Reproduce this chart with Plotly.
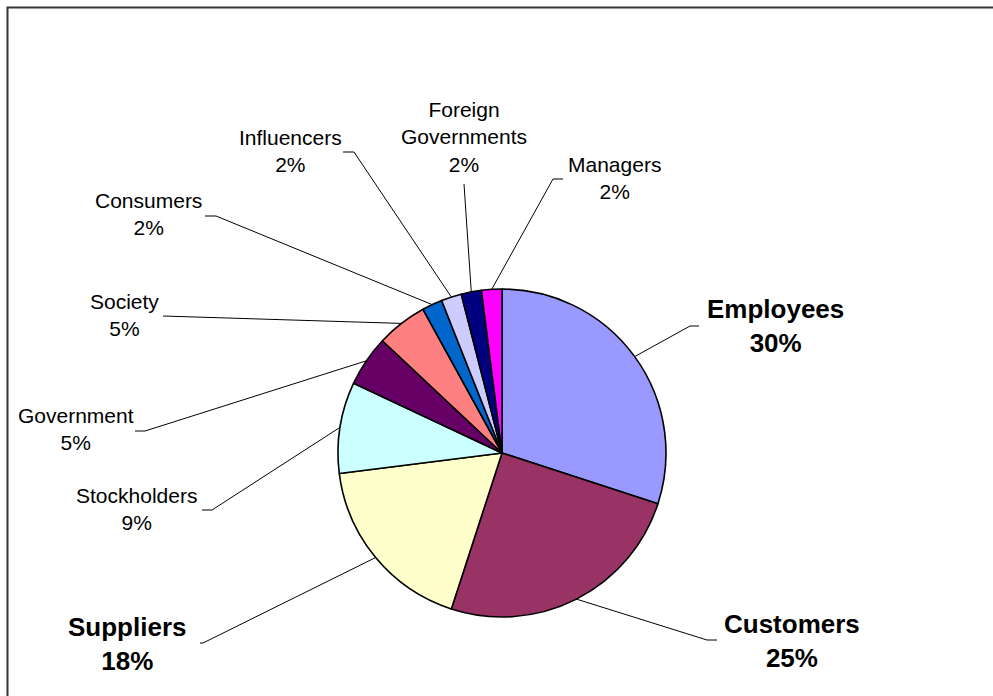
import math
import plotly.graph_objects as go

# Stakeholder shares, clockwise from 12 o'clock
stakeholders = ["Employees", "Customers", "Suppliers", "Stockholders", "Government",
                "Society", "Consumers", "Influencers", "Foreign Governments", "Managers"]
label_text = ["Employees", "Customers", "Suppliers", "Stockholders", "Government",
              "Society", "Consumers", "Influencers", "Foreign<br>Governments", "Managers"]
shares = [30, 25, 18, 9, 5, 5, 2, 2, 2, 2]
emphasis = [True, True, True, False, False, False, False, False, False, False]

slice_colors = ["#9999FF", "#993366", "#FFFFCC", "#CCFFFF", "#660066",
                "#FF8080", "#0066CC", "#CCCCFF", "#000080", "#FF00FF"]

# Canvas / pie geometry in pixels
W, H = 993, 696
CX, CY, R = 502, 453, 164

# Label placement (block centre, px) and leader line elbow / end points (px)
label_pos = [(775, 326), (792, 641), (127, 644), (136, 509), (76, 429),
             (124, 315), (148, 214), (290, 151), (464, 137), (614, 178)]
leader_elbow = [(690, 326), (707, 640), (203, 643), (212, 510), (145, 431),
                (163, 316), (216, 216), (354, 152), (464, 184), (553, 179)]
leader_end = [(699, 326), (717, 640), (200, 643), (202, 510), (135, 431),
              (163, 316), (205, 216), (343, 152), (464, 184), (563, 179)]


def px(x):
    return x / W


def py(y):
    return 1 - y / H


fig = go.Figure(go.Pie(
    labels=stakeholders,
    values=shares,
    sort=False,
    direction="clockwise",
    rotation=0,
    textinfo="none",
    hoverinfo="label+percent",
    marker=dict(colors=slice_colors, line=dict(color="black", width=1.6)),
    domain=dict(x=[px(CX - R), px(CX + R)], y=[py(CY + R), py(CY - R)]),
    showlegend=False,
))

shapes = []
annotations = []
total = sum(shares)
cum = 0
for i, v in enumerate(shares):
    mid = (cum + v / 2) / total * 2 * math.pi
    cum += v
    sx = CX + R * math.sin(mid)
    sy = CY - R * math.cos(mid)
    ex, ey = leader_elbow[i]
    tx, ty = leader_end[i]
    shapes.append(dict(
        type="path", xref="paper", yref="paper",
        path=f"M {px(sx)} {py(sy)} L {px(ex)} {py(ey)} L {px(tx)} {py(ty)}",
        line=dict(color="black", width=1),
    ))
    pct = f"{v}%"
    if emphasis[i]:
        txt = f"<b>{label_text[i]}<br>{pct}</b>"
        size = 26
    else:
        txt = f"{label_text[i]}<br>{pct}"
        size = 21
    lx, ly = label_pos[i]
    annotations.append(dict(
        x=px(lx), y=py(ly), xref="paper", yref="paper",
        text=txt, showarrow=False, xanchor="center", yanchor="middle",
        align="center",
        font=dict(family="Liberation Sans, Arial, sans-serif", size=size, color="black"),
    ))

# Chart frame (right and bottom edges run off the canvas)
shapes.append(dict(
    type="rect", xref="paper", yref="paper",
    x0=px(7.5), y0=py(7.5), x1=1.2, y1=-0.2,
    line=dict(color="#333333", width=2), fillcolor="rgba(0,0,0,0)",
))

fig.update_layout(
    width=W, height=H,
    margin=dict(l=0, r=0, t=0, b=0),
    paper_bgcolor="white",
    plot_bgcolor="white",
    shapes=shapes,
    annotations=annotations,
)

fig.write_html("out.html")
